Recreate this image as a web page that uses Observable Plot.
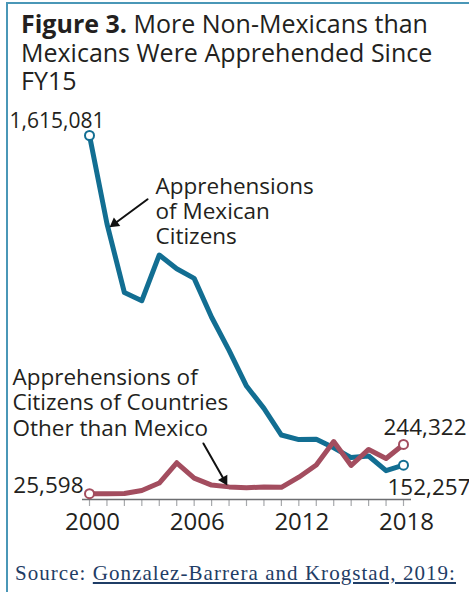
<!DOCTYPE html>
<html><head><meta charset="utf-8">
<script src="https://cdn.jsdelivr.net/npm/d3@7"></script>
<script src="https://cdn.jsdelivr.net/npm/@observablehq/plot@0.6"></script>
<style>
html,body{margin:0;padding:0;background:#fff;}
body{width:469px;height:592px;position:relative;overflow:hidden;font-family:"Open Sans",sans-serif;color:#231f20;}
#frame{position:absolute;left:6px;top:2px;right:-10px;bottom:-10px;border-left:2px solid #4a97b7;border-top:2px solid #4a97b7;}
#title{position:absolute;left:21px;top:9px;font-size:25px;line-height:28.5px;white-space:nowrap;}
#title b{font-weight:700;}
#chart{position:absolute;left:0;top:100px;}
#source{position:absolute;left:15px;top:563px;font-family:"Liberation Serif",serif;font-size:21px;letter-spacing:1.05px;line-height:20px;color:#1f3d66;white-space:nowrap;}
#source span{text-decoration:underline;}
</style>
</head><body>
<div id="frame"></div>
<div id="title"><b>Figure 3.</b> More Non-Mexicans than<br>Mexicans Were Apprehended Since<br>FY15</div>
<div id="chart"></div>
<div id="source">Source: <span>Gonzalez-Barrera and Krogstad, 2019: </span></div>
<script>
const years = [2000,2001,2002,2003,2004,2005,2006,2007,2008,2009,2010,2011,2012,2013,2014,2015,2016,2017,2018];
const labeledYears = [2000,2006,2012,2018];
const mexican = [1615081,1224046,917993,882012,1085006,1023905,981066,808773,661766,503386,404365,286154,265755,267734,229178,186017,192969,127938,152257];
const nonMexican = [25598,26000,27000,40000,73000,163000,95000,64000,56000,52000,56000,54000,99000,153000,257000,151000,222000,182000,244322];
const mexicanLabel = "Apprehensions\nof Mexican\nCitizens";
const nonMexicanLabel = "Apprehensions of\nCitizens of Countries\nOther than Mexico";
// annotation arrows in data units: [x1, y1, x2, y2]
const arrowMexican = [2003.33, 1332000, 2001.15, 1207800];
const arrowNonMexican = [2006.53, 248700, 2007.9, 62200];

const blue = "#126e92", red = "#a34d5f";
const mexData = years.map((year, i) => ({year, value: mexican[i]}));
const nonData = years.map((year, i) => ({year, value: nonMexican[i]}));
const fmt = d3.format(",");
const last = years.length - 1;
const arrows = [arrowMexican, arrowNonMexican].map(([x1, y1, x2, y2]) => ({x1, y1, x2, y2}));

const chart = Plot.plot({
  width: 469, height: 445,
  marginLeft: 89, marginRight: 66, marginTop: 35, marginBottom: 46,
  x: {domain: [2000, 2018]},
  y: {domain: [0, 1615081], axis: null},
  style: {fontFamily: "'Open Sans', sans-serif", color: "#231f20", background: "transparent", overflow: "visible"},
  marks: [
    Plot.axisX({ticks: years, tickSize: 7, tickFormat: () => "", stroke: "#a7a9ac", strokeWidth: 1.2}),
    Plot.axisX({ticks: labeledYears, tickSize: 0, tickPadding: 13, tickFormat: d => String(d), fontSize: 24, fill: "#231f20", dx: 3}),
    Plot.ruleY([0], {stroke: "#6d6e71", strokeWidth: 1.5, insetLeft: -7, insetRight: -8}),
    Plot.line(mexData, {x: "year", y: "value", stroke: blue, strokeWidth: 5, strokeLinejoin: "round"}),
    Plot.line(nonData, {x: "year", y: "value", stroke: red, strokeWidth: 5, strokeLinejoin: "round"}),
    Plot.dot([mexData[0], mexData[last]], {x: "year", y: "value", r: 4.5, fill: "white", stroke: blue, strokeWidth: 2}),
    Plot.dot([nonData[0], nonData[last]], {x: "year", y: "value", r: 4.5, fill: "white", stroke: red, strokeWidth: 2}),
    Plot.arrow(arrows, {x1: "x1", y1: "y1", x2: "x2", y2: "y2", stroke: "#111", strokeWidth: 2, headLength: 0, insetEnd: 6}),
    Plot.dot([arrows[0]], {x: "x2", y: "y2", symbol: "triangle", r: 4, fill: "#111", stroke: "none", rotate: 233.6, dx: 5.0, dy: -3.7}),
    Plot.dot([arrows[1]], {x: "x2", y: "y2", symbol: "triangle", r: 4, fill: "#111", stroke: "none", rotate: 150.3, dx: -3.1, dy: -5.4}),
    Plot.text([mexData[0]], {x: "year", y: "value", text: d => fmt(d.value), fontSize: 21, lineAnchor: "top", textAnchor: "end", dx: 15, dy: -22.6}),
    Plot.text([nonData[0]], {x: "year", y: "value", text: d => fmt(d.value), fontSize: 22.5, lineAnchor: "top", textAnchor: "end", dx: -6, dy: -16.5}),
    Plot.text([nonData[last]], {x: "year", y: "value", text: d => fmt(d.value), fontSize: 22.5, lineAnchor: "top", textAnchor: "start", dx: -20, dy: -25.5}),
    Plot.text([mexData[last]], {x: "year", y: "value", text: d => fmt(d.value), fontSize: 22.5, lineAnchor: "top", textAnchor: "start", dx: -16, dy: 13.5}),
    Plot.text([mexData[1]], {x: "year", y: "value", text: () => mexicanLabel, fontSize: 22.5, lineHeight: 1.11, lineAnchor: "top", textAnchor: "start", dx: 48.6, dy: -47.3}),
    Plot.text([nonData[0]], {x: "year", y: "value", text: () => nonMexicanLabel, fontSize: 22.5, lineHeight: 1.13, lineAnchor: "top", textAnchor: "start", dx: -77, dy: -127})
  ]
});
document.getElementById("chart").appendChild(chart);
</script>
</body></html>
